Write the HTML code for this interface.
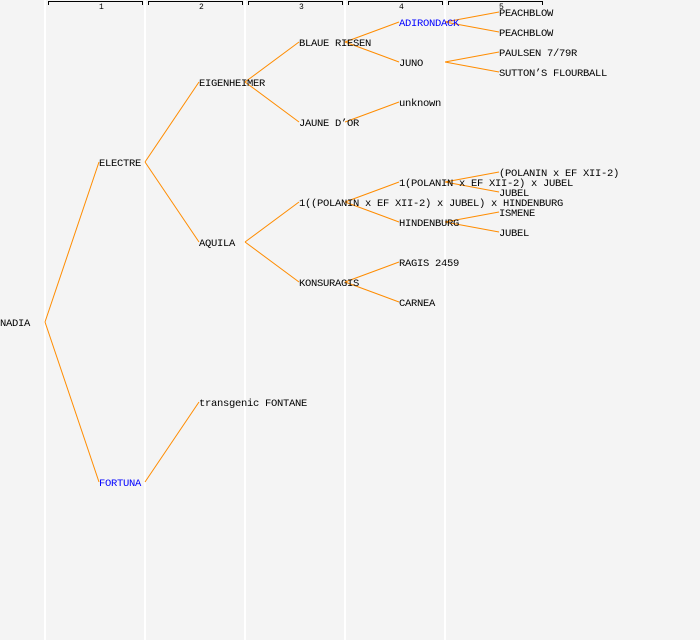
<!DOCTYPE html>
<html><head><meta charset="utf-8"><style>
html,body{margin:0;padding:0;background:#f4f4f4;}
svg{display:block;}
text{font-family:"Liberation Mono","DejaVu Sans Mono",monospace;font-size:10.5px;letter-spacing:-0.3px;fill:#000;}
.n{font-size:8px;letter-spacing:0;}
</style></head><body>
<svg width="700" height="640" xmlns="http://www.w3.org/2000/svg">
<rect width="700" height="640" fill="#f4f4f4"/>
<g stroke="#ffffff" stroke-width="2">
<line x1="45" y1="0" x2="45" y2="640"/><line x1="145" y1="0" x2="145" y2="640"/>
<line x1="245" y1="0" x2="245" y2="640"/><line x1="345" y1="0" x2="345" y2="640"/>
<line x1="445" y1="0" x2="445" y2="640"/>
</g>
<g stroke="#000" stroke-width="1" fill="none">
<path d="M48.5 5V1.5H142.5V5"/><path d="M148.5 5V1.5H242.5V5"/><path d="M248.5 5V1.5H342.5V5"/>
<path d="M348.5 5V1.5H442.5V5"/><path d="M448.5 5V1.5H542.5V5"/>
</g>
<g><text class="n" x="99" y="9">1</text><text class="n" x="199" y="9">2</text><text class="n" x="299" y="9">3</text><text class="n" x="399" y="9">4</text><text class="n" x="499" y="9">5</text></g>
<g stroke="#ff8c00" stroke-width="1" fill="none">
<line x1="45" y1="322" x2="99" y2="162"/><line x1="45" y1="322" x2="99" y2="482"/>
<line x1="145" y1="162" x2="199" y2="82"/><line x1="145" y1="162" x2="199" y2="242"/>
<line x1="145" y1="482" x2="199" y2="402"/>
<line x1="245" y1="82" x2="299" y2="42"/><line x1="245" y1="82" x2="299" y2="122"/>
<line x1="245" y1="242" x2="299" y2="202"/><line x1="245" y1="242" x2="299" y2="282"/>
<line x1="345" y1="42" x2="399" y2="22"/><line x1="345" y1="42" x2="399" y2="62"/>
<line x1="345" y1="122" x2="399" y2="102"/>
<line x1="345" y1="202" x2="399" y2="182"/><line x1="345" y1="202" x2="399" y2="222"/>
<line x1="345" y1="282" x2="399" y2="262"/><line x1="345" y1="282" x2="399" y2="302"/>
<line x1="445" y1="22" x2="499" y2="12"/><line x1="445" y1="22" x2="499" y2="32"/>
<line x1="445" y1="62" x2="499" y2="52"/><line x1="445" y1="62" x2="499" y2="72"/>
<line x1="445" y1="182" x2="499" y2="172"/><line x1="445" y1="182" x2="499" y2="192"/>
<line x1="445" y1="222" x2="499" y2="212"/><line x1="445" y1="222" x2="499" y2="232"/>
</g>
<g>
<text x="0" y="326">NADIA</text>
<text x="99" y="166">ELECTRE</text>
<text x="99" y="486" style="fill:#0000ff">FORTUNA</text>
<text x="199" y="86">EIGENHEIMER</text>
<text x="199" y="246">AQUILA</text>
<text x="199" y="406">transgenic FONTANE</text>
<text x="299" y="46">BLAUE RIESEN</text>
<text x="299" y="126">JAUNE D’OR</text>
<text x="299" y="206">1((POLANIN x EF XII-2) x JUBEL) x HINDENBURG</text>
<text x="299" y="286">KONSURAGIS</text>
<text x="399" y="26" style="fill:#0000ff">ADIRONDACK</text>
<text x="399" y="66">JUNO</text>
<text x="399" y="106">unknown</text>
<text x="399" y="186">1(POLANIN x EF XII-2) x JUBEL</text>
<text x="399" y="226">HINDENBURG</text>
<text x="399" y="266">RAGIS 2459</text>
<text x="399" y="306">CARNEA</text>
<text x="499" y="16">PEACHBLOW</text>
<text x="499" y="36">PEACHBLOW</text>
<text x="499" y="56">PAULSEN 7/79R</text>
<text x="499" y="76">SUTTON’S FLOURBALL</text>
<text x="499" y="176">(POLANIN x EF XII-2)</text>
<text x="499" y="196">JUBEL</text>
<text x="499" y="216">ISMENE</text>
<text x="499" y="236">JUBEL</text>
</g>
</svg>
</body></html>
